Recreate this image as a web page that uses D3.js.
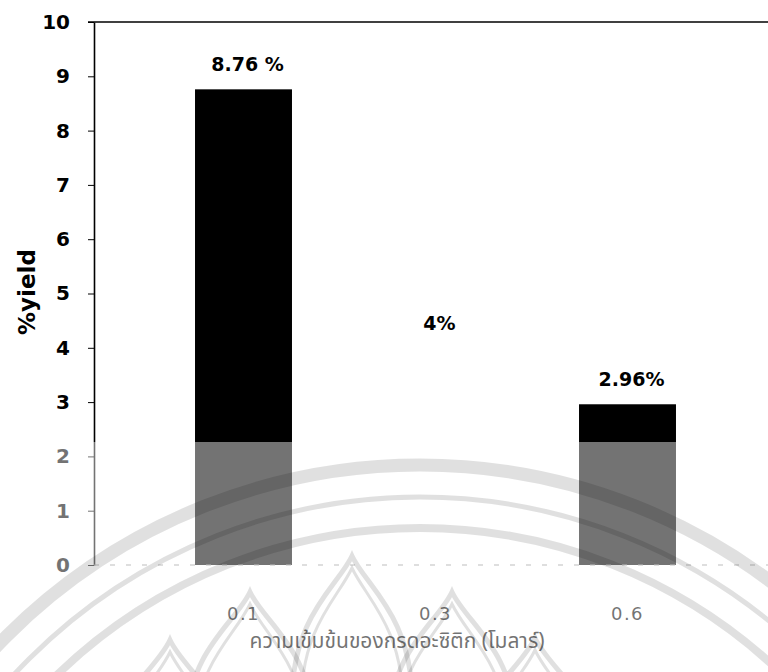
<!DOCTYPE html>
<html>
<head>
<meta charset="utf-8">
<script src="https://cdn.jsdelivr.net/npm/d3@7/dist/d3.min.js"></script>
<style>
  html, body { margin: 0; padding: 0; background: #fff; }
  svg { display: block; }
</style>
</head>
<body>
<script>
// Acetic acid concentration (M) and the %yield obtained at each
const categories = ["0.1", "0.3", "0.6"];
const yieldValues = [8.76, 4, 2.96];
const valueLabels = ["8.76 %", "4%", "2.96%"];
const barFills = ["#000", "#fff", "#000"];
const yTicks = [0, 1, 2, 3, 4, 5, 6, 7, 8, 9, 10];

const W = 768, H = 672;
const svg = d3.select("body").append("svg").attr("width", W).attr("height", H);
svg.append("rect").attr("width", W).attr("height", H).attr("fill", "#fff");

const x = d3.scaleBand().domain(categories).range([147.5, 723.5])
  .paddingInner(0.495).paddingOuter(0.2475);
const y = d3.scaleLinear().domain([0, 10]).range([565, 22]);
const axisX = 94;

const boldFont = "'DejaVu Sans', Verdana, sans-serif";

// bars
svg.append("g").selectAll("rect").data(yieldValues).join("rect")
  .attr("x", (d, i) => x(categories[i]))
  .attr("y", d => y(d))
  .attr("width", x.bandwidth())
  .attr("height", d => y(0) - y(d))
  .attr("fill", (d, i) => barFills[i]);

// value labels above the bars
svg.append("g").selectAll("text").data(yieldValues).join("text")
  .attr("x", (d, i) => x(categories[i]) + x.bandwidth() / 2 + 4)
  .attr("y", d => y(d) - 18)
  .attr("text-anchor", "middle")
  .attr("font-family", boldFont)
  .attr("font-weight", "bold")
  .attr("font-size", 19)
  .attr("fill", "#000")
  .text((d, i) => valueLabels[i]);

// top frame line
svg.append("line")
  .attr("x1", 88).attr("x2", W).attr("y1", y(10)).attr("y2", y(10))
  .attr("stroke", "#000").attr("stroke-width", 1.6);

// y axis
const yAxis = svg.append("g").attr("transform", `translate(${axisX},0)`)
  .call(d3.axisLeft(y).tickValues(yTicks).tickSize(6).tickSizeOuter(0)
    .tickPadding(18).tickFormat(d3.format("d")));
yAxis.select(".domain").attr("stroke", "#000").attr("stroke-width", 1.6);
yAxis.selectAll(".tick line").attr("stroke", "#000").attr("stroke-width", 1);
yAxis.selectAll(".tick text")
  .attr("font-family", boldFont).attr("font-weight", "bold")
  .attr("font-size", 20).attr("fill", "#000");

// x axis baseline (faint, broken)
svg.append("line")
  .attr("x1", axisX).attr("x2", W).attr("y1", y(0)).attr("y2", y(0))
  .attr("stroke", "#888").attr("stroke-width", 1.2)
  .attr("stroke-dasharray", "5,11");

// x tick labels
const xAxis = svg.append("g").attr("transform", `translate(0,${y(0)})`)
  .call(d3.axisBottom(x).tickSize(0).tickPadding(42));
xAxis.select(".domain").remove();
xAxis.selectAll(".tick text")
  .attr("font-family", "'DejaVu Sans', sans-serif")
  .attr("font-size", 18).attr("letter-spacing", 1.5)
  .attr("fill", "#000");

// axis titles
svg.append("text")
  .attr("transform", "translate(35,292) rotate(-90)")
  .attr("text-anchor", "middle")
  .attr("font-family", boldFont).attr("font-weight", "bold")
  .attr("font-size", 23).attr("fill", "#000")
  .text("%yield");

svg.append("text")
  .attr("x", 397).attr("y", 648)
  .attr("text-anchor", "middle")
  .attr("font-family", "'Noto Sans Thai', 'Noto Sans', 'DejaVu Sans', sans-serif")
  .attr("font-size", 21).attr("fill", "#000")
  .text("ความเข้มข้นของกรดอะซิติก (โมลาร์)");

// pale wash over the lower part of the page
svg.append("rect")
  .attr("x", 0).attr("y", 442).attr("width", W).attr("height", H - 442)
  .attr("fill", "#fff").attr("fill-opacity", 0.45);

// seal emblem in the background: rings and lotus petals
const seal = svg.append("g")
  .attr("fill", "none").attr("stroke", "#000").attr("stroke-opacity", 0.12);
const cx = 420, cy = 1050;
const rings = [[585, 13], [553, 5], [522, 8]];
rings.forEach(([r, w]) => {
  seal.append("circle").attr("cx", cx).attr("cy", cy).attr("r", r).attr("stroke-width", w);
});

// lotus petals: [tip x, tip y, half width, base y]
const petals = [
  [352, 556, 60, 700], [250, 592, 62, 720], [452, 592, 62, 720],
  [170, 640, 60, 740], [535, 638, 60, 740]
];
petals.forEach(([tx, ty, hw, by]) => {
  [0, 12].forEach(off => {
    const t = ty + off, h = hw - off * 0.8;
    const p = d3.path();
    p.moveTo(tx - h, by);
    p.bezierCurveTo(tx - h, t + 60, tx - 14, t + 30, tx, t);
    p.bezierCurveTo(tx + 14, t + 30, tx + h, t + 60, tx + h, by);
    seal.append("path").attr("d", p.toString()).attr("stroke-width", off ? 3 : 5);
  });
});
</script>
</body>
</html>
